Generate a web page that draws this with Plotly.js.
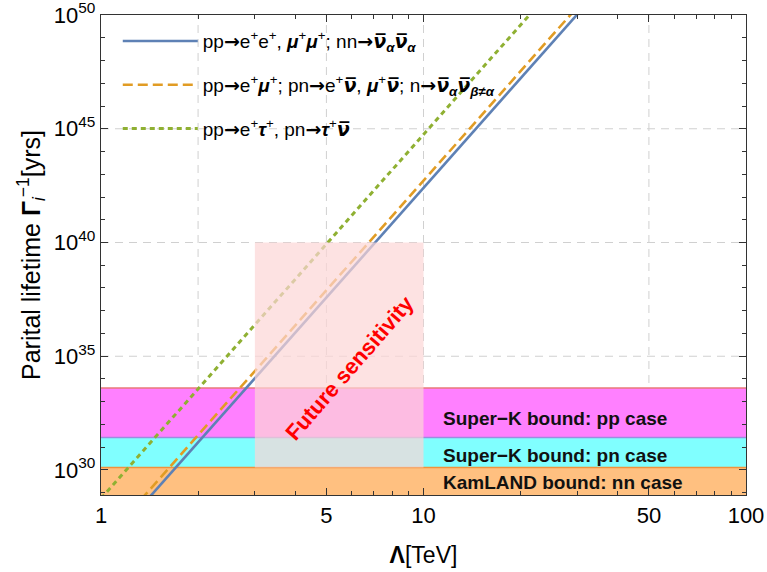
<!DOCTYPE html>
<html>
<head>
<meta charset="utf-8">
<script src="https://cdn.plot.ly/plotly-3.0.1.min.js"></script>
<style>html,body{margin:0;padding:0;background:#fff;}#chart{width:767px;height:572px;}</style>
</head>
<body>
<div id="chart"></div>
<script>
// ---- data ----
const lambdaTeV = [1, 100];
const lifetimeSame = [2.5e26, 2.5e58];     // pp→e+e+, μ+μ+; nn→ν̄αν̄α
const lifetimeMixed = [5.2e26, 5.2e58];    // pp→e+μ+; pn→e+ν̄, μ+ν̄; n→ν̄αν̄β
const lifetimeTau = [5.6e28, 5.6e60];      // pp→e+τ+, pn→τ+ν̄

const boundNames = ['Super−K bound: pp case', 'Super−K bound: pn case', 'KamLAND bound: nn case'];
const boundUpper = [4.0e33, 2.7e31, 1.3e30];
const boundLower = [2.7e31, 1.3e30, 1e28];

const futureLambda = [3, 10];
const futureLifetime = [1.3e30, 1e40];

const xTickVals = [1, 5, 10, 50, 100];
const xTickText = ['1', '5', '10', '50', '100'];
const yTickVals = [1e30, 1e35, 1e40, 1e45, 1e50];
const yTickText = ['10<sup>30</sup>', '10<sup>35</sup>', '10<sup>40</sup>', '10<sup>45</sup>', '10<sup>50</sup>'];
const xGrid = [2, 5, 10, 50];
const yGrid = [1e35, 1e40, 1e45];

// ---- text helpers ----
const ARW = '<span style="font-family:DejaVu Sans"><b>→</b></span>';
const bi = s => '<b><i>' + s + '</i></b>';
const nubar = '<span style="font-family:DejaVu Sans"><b><i>ν\u0305</i></b></span>';
const seriesNames = [
  'pp' + ARW + 'e<sup>+</sup>e<sup>+</sup>, ' + bi('μ') + '<sup>+</sup>' + bi('μ') + '<sup>+</sup>; nn' + ARW +
    nubar + '<sub>' + bi('α') + '</sub>' + nubar + '<sub>' + bi('α') + '</sub>',
  'pp' + ARW + 'e<sup>+</sup>' + bi('μ') + '<sup>+</sup>; pn' + ARW + 'e<sup>+</sup>' + nubar + ', ' + bi('μ') +
    '<sup>+</sup>' + nubar + '; n' + ARW + nubar + '<sub>' + bi('α') + '</sub>' + nubar + '<sub>' + bi('β≠α') + '</sub>',
  'pp' + ARW + 'e<sup>+</sup>' + bi('τ') + '<sup>+</sup>, pn' + ARW + bi('τ') + '<sup>+</sup>' + nubar
];

// ---- styles ----
const FONT = 'Liberation Sans, Arial, sans-serif';
const lineColors = ['#5E81B5', '#E19C24', '#8FB032'];
const lineDash = ['solid', '10px,5px', '5px,4px'];
const lineWidth = [2.6, 2.6, 3];
const bandFill = ['#FF80FF', '#80FFFF', '#FFC080'];
const bandEdge = ['#E87878', '#9A8EE0', '#F0923C'];
const bandLabelY = [32.25, 30.65, 29.44];

const traces = [];
boundUpper.forEach((u, i) => {
  traces.push({x: lambdaTeV, y: [boundLower[i], boundLower[i]], type:'scatter', mode:'lines',
    line:{width:0, color:bandFill[i]}, showlegend:false, hoverinfo:'skip'});
  traces.push({x: lambdaTeV, y: [u, u], type:'scatter', mode:'lines', fill:'tonexty',
    fillcolor: bandFill[i], name: boundNames[i],
    line:{width:1.5, color:bandEdge[i]}, showlegend:false, hoverinfo:'skip'});
});
const seriesY = [lifetimeSame, lifetimeMixed, lifetimeTau];
seriesY.forEach((ys, i) => traces.push({
  x: lambdaTeV, y: ys, type: 'scatter', mode: 'lines',
  name: seriesNames[i], legendgroup: 'g' + i,
  line: {color: lineColors[i], width: lineWidth[i], dash: lineDash[i]},
  hoverinfo: 'skip'
}));

const shapes = [];
xGrid.forEach(v => shapes.push({type:'line', xref:'x', yref:'paper', x0:v, x1:v, y0:0, y1:1,
  layer:'below', line:{color:'#d0d0d0', width:1, dash:'8px,6px'}}));
yGrid.forEach(v => shapes.push({type:'line', xref:'paper', yref:'y', x0:0, x1:1, y0:v, y1:v,
  layer:'below', line:{color:'#d0d0d0', width:1, dash:'8px,6px'}}));
shapes.push({type:'rect', xref:'x', yref:'y', x0:futureLambda[0], x1:futureLambda[1],
  y0:futureLifetime[0], y1:futureLifetime[1], layer:'above',
  fillcolor:'rgba(252,214,214,0.7)', line:{width:0}});

const annotations = boundNames.map((t, i) => ({
  text:'<b>' + t + '</b>', x:1.053, y:bandLabelY[i], xref:'x', yref:'y',
  xanchor:'left', yanchor:'middle', showarrow:false,
  font:{family:FONT, size:19, color:'#111'}
}));
annotations.push({text:'<b>Future sensitivity</b>', x:0.772, y:34.51, xref:'x', yref:'y',
  textangle:-49, showarrow:false, font:{family:FONT, size:22, color:'#FF0000'}});

const layout = {
  width:767, height:572,
  margin:{l:101, r:21, t:15, b:77, pad:0},
  paper_bgcolor:'#fff', plot_bgcolor:'#fff',
  font:{family:FONT, size:20, color:'#000'},
  showlegend:true,
  legend:{x:0.026, y:0.985, xanchor:'left', yanchor:'top', bgcolor:'rgba(0,0,0,0)',
    font:{family:FONT, size:19, color:'#000'}, tracegroupgap:16, itemwidth:75},
  xaxis:{type:'log', range:[0, 2], tickmode:'array', tickvals:xTickVals, ticktext:xTickText,
    ticks:'inside', ticklen:7, tickwidth:1, tickcolor:'#333',
    minor:{dtick:'D1', ticks:'inside', ticklen:4, tickwidth:1, tickcolor:'#333', showgrid:false},
    showline:true, linecolor:'#333', linewidth:1.2, mirror:'ticks', showgrid:false, zeroline:false,
    tickfont:{family:FONT, size:22}, ticklabeloverflow:'allow',
    title:{text:'<b>Λ</b>[TeV]', font:{family:FONT, size:23}, standoff:20}},
  yaxis:{type:'log', range:[28.9, 50.0005], tickmode:'array', tickvals:yTickVals, ticktext:yTickText,
    ticks:'inside', ticklen:7, tickwidth:1, tickcolor:'#333',
    minor:{dtick:1, ticks:'inside', ticklen:4, tickwidth:1, tickcolor:'#333', showgrid:false},
    showline:true, linecolor:'#333', linewidth:1.2, mirror:'ticks', showgrid:false, zeroline:false,
    tickfont:{family:FONT, size:22}, ticklabeloverflow:'allow',
    title:{text:'Parital lifetime <b>Γ</b><sub><i>i</i></sub><sup>−1</sup>[yrs]', font:{family:FONT, size:25}, standoff:6}},
  shapes: shapes,
  annotations: annotations
};

Plotly.newPlot('chart', traces, layout, {displayModeBar:false, staticPlot:true});
</script>
</body>
</html>
